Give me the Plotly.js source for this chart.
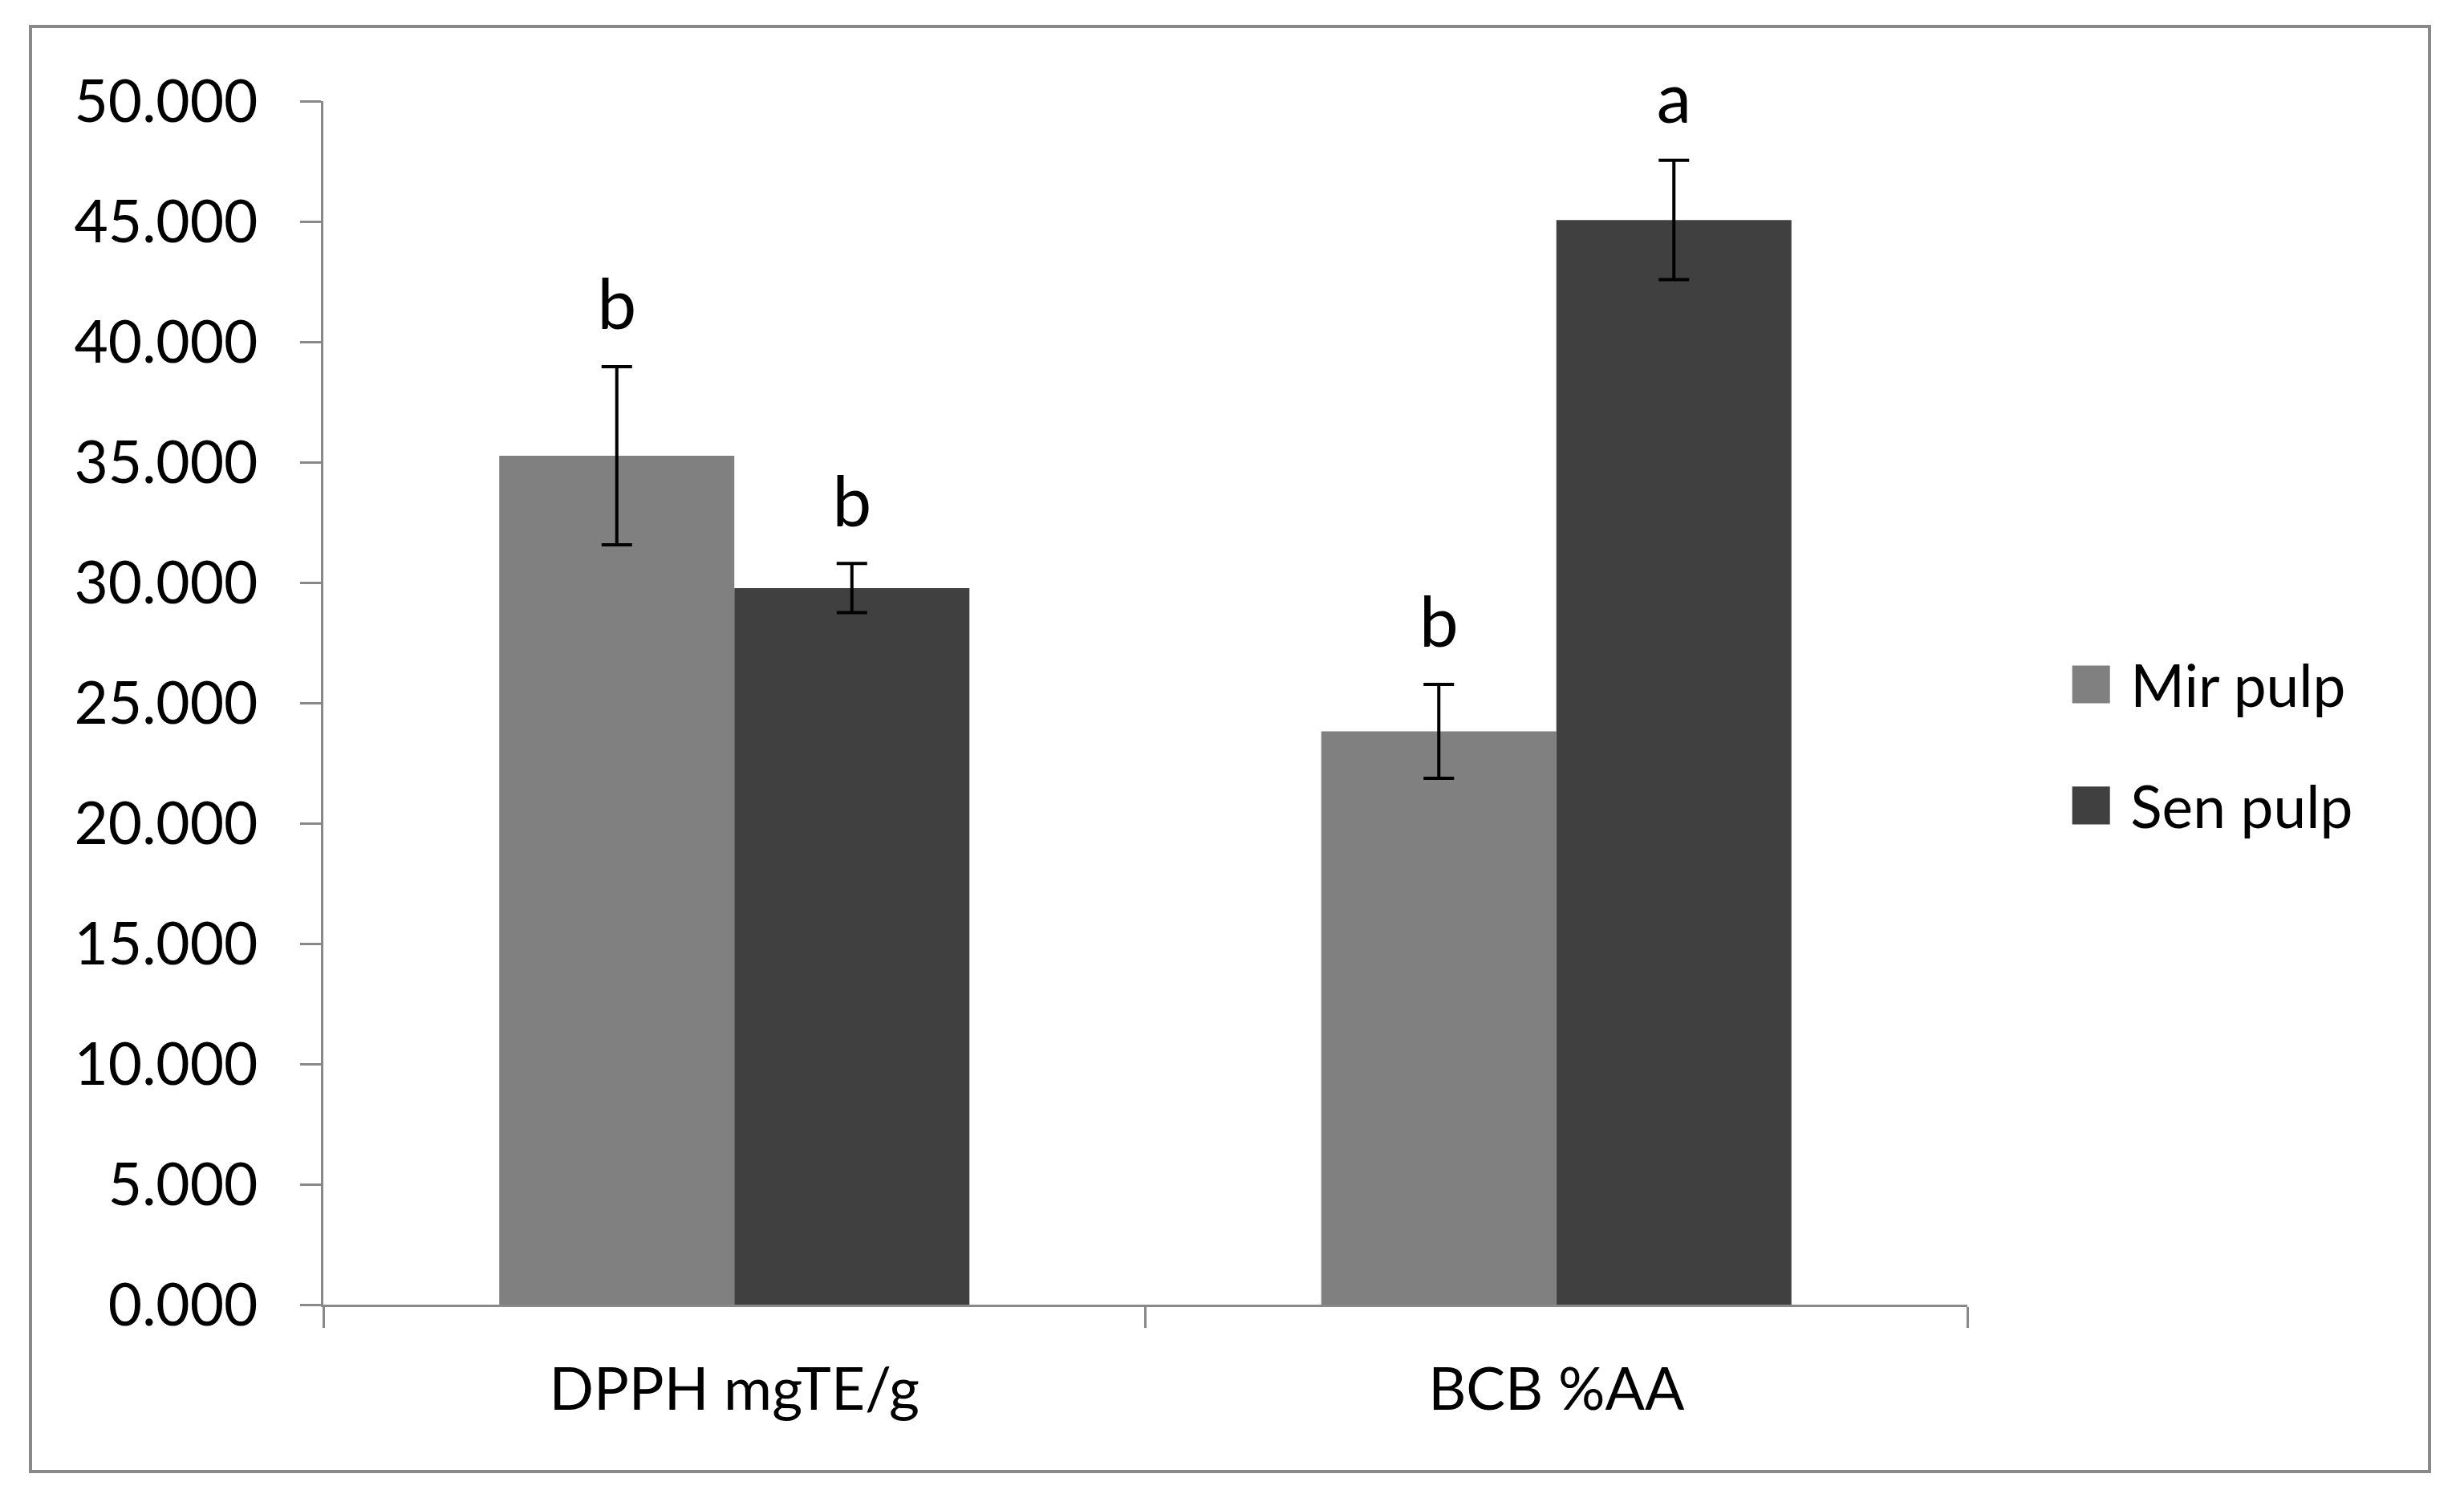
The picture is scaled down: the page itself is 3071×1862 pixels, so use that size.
<!DOCTYPE html>
<html>
<head>
<meta charset="utf-8">
<script src="https://cdn.plot.ly/plotly-3.0.1.min.js"></script>
<style>
  html, body { margin: 0; padding: 0; background: #ffffff; }
  #chart { width: 3071px; height: 1862px; }
</style>
</head>
<body>
<div id="chart"></div>
<script>
// ---- data ----
const categories = ["DPPH mgTE/g", "BCB %AA"];
const seriesNames = ["Mir pulp", "Sen pulp"];
const mirValues = [35.27, 23.82];
const mirErrors = [3.70, 1.95];
const senValues = [29.77, 45.06];
const senErrors = [1.02, 2.48];
const mirLetters = ["b", "b"];
const senLetters = ["b", "a"];
const yTickValues = [0, 5, 10, 15, 20, 25, 30, 35, 40, 45, 50];

// ---- styles ----
const W = 3071, H = 1862;
const M = { l: 403, r: 619, t: 126, b: 236 };
const axisGray = "#898989";
const fontFamily = "Lato, 'Open Sans', sans-serif";
const tickFontSize = 73;
const letterFontSize = 87;
const legendScale = 3.92;
const legendTextX = 32.5;
const colors = ["#808080", "#404040"];

const values = [mirValues, senValues];
const errors = [mirErrors, senErrors];
const letters = [mirLetters, senLetters];

const traces = [];
for (let i = 0; i < 2; i++) {
  traces.push({
    type: "bar",
    name: seriesNames[i],
    x: categories,
    y: values[i],
    marker: { color: colors[i], line: { width: 0 } },
    error_y: { type: "data", array: errors[i], visible: true, color: "#000000", thickness: 4, width: 19 },
    legendgroup: "g" + i,
    hoverinfo: "skip"
  });
}
for (let i = 0; i < 2; i++) {
  traces.push({
    type: "scatter",
    mode: "markers+text",
    x: categories,
    y: values[i].map((v, k) => v + errors[i][k]),
    text: letters[i],
    textposition: "top center",
    textfont: { family: fontFamily, size: letterFontSize, color: "#000000" },
    marker: { size: 38, opacity: 0, color: "#ffffff" },
    showlegend: false,
    hoverinfo: "skip",
    cliponaxis: false
  });
}

// outer frame in paper coordinates
const pw = W - M.l - M.r, ph = H - M.t - M.b;
const frame = { left: 38, right: 3028, top: 33, bottom: 1834 };

const layout = {
  width: W, height: H,
  margin: M,
  paper_bgcolor: "#ffffff",
  plot_bgcolor: "#ffffff",
  barmode: "group",
  bargap: 0.428,
  bargroupgap: 0,
  scattermode: "group",
  scattergap: 0.428,
  showlegend: true,
  font: { family: fontFamily, color: "#000000" },
  xaxis: {
    type: "category",
    showline: true, linecolor: axisGray, linewidth: 3,
    ticks: "outside", tickson: "boundaries", ticklen: 26, tickwidth: 3, tickcolor: axisGray,
    tickfont: { family: fontFamily, size: tickFontSize, color: "#000000" },
    ticklabelstandoff: 40,
    showgrid: false, zeroline: false
  },
  yaxis: {
    range: [0, 50],
    tickvals: yTickValues,
    tickformat: ".3f",
    showline: true, linecolor: axisGray, linewidth: 3,
    ticks: "outside", ticklen: 26, tickwidth: 3, tickcolor: axisGray,
    tickfont: { family: fontFamily, size: tickFontSize, color: "#000000" },
    ticklabelstandoff: 38,
    showgrid: false, zeroline: false
  },
  legend: {
    x: 1.037, y: 0.564, xanchor: "left", yanchor: "top",
    bgcolor: "rgba(0,0,0,0)", borderwidth: 0,
    font: { family: fontFamily, size: tickFontSize / legendScale, color: "#000000" },
    traceorder: "grouped", tracegroupgap: 11.3
  },
  shapes: [{
    type: "rect", xref: "paper", yref: "paper",
    x0: (frame.left - M.l) / pw, x1: (frame.right - M.l) / pw,
    y0: (H - M.b - frame.bottom) / ph, y1: (H - M.b - frame.top) / ph,
    line: { color: axisGray, width: 4 }, fillcolor: "rgba(0,0,0,0)"
  }]
};

Plotly.newPlot("chart", traces, layout, { staticPlot: true, displayModeBar: false }).then(gd => {
  const lg = gd.querySelector("g.legend");
  if (lg) {
    const t = lg.getAttribute("transform") || "";
    lg.setAttribute("transform", t + " scale(" + legendScale + ")");
    lg.querySelectorAll("text.legendtext").forEach(el => el.setAttribute("x", legendTextX));
  }
});
</script>
</body>
</html>
